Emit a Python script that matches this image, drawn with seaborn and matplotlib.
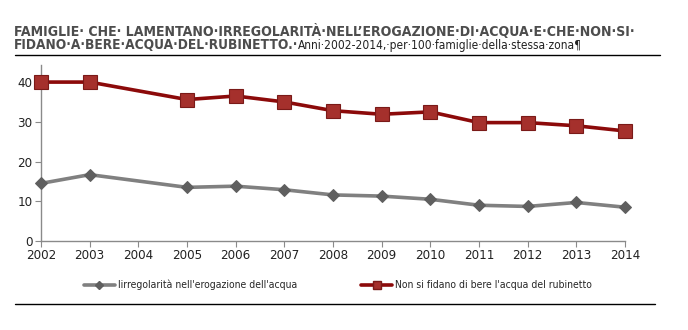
import matplotlib
matplotlib.use("Agg")
import matplotlib.pyplot as plt
import seaborn as sns
import pandas as pd
from matplotlib.lines import Line2D

sns.set_theme(style="white")
plt.rcParams['font.family'] = ['DejaVu Sans']
plt.rcParams['font.stretch'] = 'condensed'

# Survey years (2004 has no observation)
years = [2002, 2003, 2005, 2006, 2007, 2008, 2009, 2010, 2011, 2012, 2013, 2014]
irregolarita = [14.5, 16.7, 13.5, 13.8, 12.9, 11.6, 11.3, 10.5, 9.0, 8.7, 9.7, 8.5]
non_si_fidano = [40.0, 40.0, 35.6, 36.5, 35.0, 32.8, 31.9, 32.5, 29.8, 29.8, 29.0, 27.7]
tick_years = list(range(2002, 2015))
y_ticks = [0, 10, 20, 30, 40]

label_irr = "lirregolarità nell'erogazione dell'acqua"
label_fid = "Non si fidano di bere l'acqua del rubinetto"

df = pd.DataFrame({"anno": years, "irr": irregolarita, "fid": non_si_fidano})

fig = plt.figure(figsize=(6.88, 3.30), dpi=100)
ax = fig.add_axes([41/688, 1 - 241/330, (625-41)/688, (241-65)/330])

gray_line = "#808080"
gray_mark = "#5f5f5f"
red_line = "#8c0a0a"
red_mark = "#a5302c"

sns.lineplot(data=df, x="anno", y="irr", ax=ax, color=gray_line, linewidth=2.6,
             marker="D", markersize=6.5, markerfacecolor=gray_mark,
             markeredgecolor=gray_mark, clip_on=False, zorder=3)
sns.lineplot(data=df, x="anno", y="fid", ax=ax, color=red_line, linewidth=2.6,
             marker="s", markersize=10, markerfacecolor=red_mark,
             markeredgecolor="#7a1a18", markeredgewidth=0.8, clip_on=False, zorder=4)

ax.set_xlim(2002, 2014)
ax.set_ylim(0, 44.3)
ax.set_xticks(tick_years)
ax.set_xticklabels([str(y) for y in tick_years])
ax.set_yticks(y_ticks)
ax.set_xlabel("")
ax.set_ylabel("")
for s in ["top", "right"]:
    ax.spines[s].set_visible(False)
for s in ["left", "bottom"]:
    ax.spines[s].set_color("#8a8a8a")
    ax.spines[s].set_linewidth(1.0)
ax.tick_params(axis="both", which="both", direction="out", length=4, width=0.8,
               color="#8a8a8a", labelsize=9.5, labelcolor="#222222", pad=2,
               bottom=True, left=True)
ax.grid(False)

handles = [
    Line2D([], [], color=gray_line, linewidth=2.6, marker="D", markersize=4,
           markerfacecolor=gray_mark, markeredgecolor=gray_mark),
    Line2D([], [], color=red_line, linewidth=2.6, marker="s", markersize=6,
           markerfacecolor=red_mark, markeredgecolor="#7a1a18"),
]
fig.legend(handles, [label_irr, label_fid], loc="center", ncol=2,
           bbox_to_anchor=(338/688, 1 - 285/330), frameon=False, fontsize=7.5,
           handlelength=2.9, handletextpad=0.3, columnspacing=6.2)

# Heading, two lines
title_color = "#4d4d4d"
fig.text(14/688, 1 - 31/330,
         "FAMIGLIE· CHE· LAMENTANO·IRREGOLARITÀ·NELL’EROGAZIONE·DI·ACQUA·E·CHE·NON·SI·",
         fontsize=10.1, fontweight="bold", color=title_color, va="center", ha="left")
t2 = fig.text(14/688, 1 - 45/330, "FIDANO·A·BERE·ACQUA·DEL·RUBINETTO.·",
              fontsize=9.8, fontweight="bold", color=title_color, va="center", ha="left")
fig.canvas.draw()
bb = t2.get_window_extent()
x_next = bb.x1 / fig.bbox.width
fig.text(x_next, 1 - 45/330, "Anni·2002-2014,·per·100·famiglie·della·stessa·zona¶",
         fontsize=8.6, color="#222222", va="center", ha="left")

# Rule lines above and below the chart
fig.add_artist(Line2D([15/688, 660/688], [1 - 55/330, 1 - 55/330], color="black", linewidth=1.0))
fig.add_artist(Line2D([15/688, 655/688], [1 - 304/330, 1 - 304/330], color="black", linewidth=1.0))

fig.savefig("out.png", dpi=100)
